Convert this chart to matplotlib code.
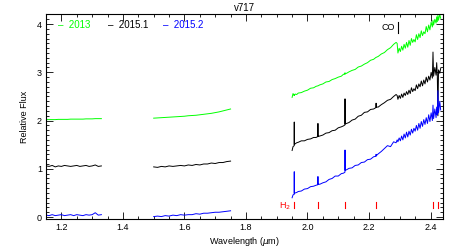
"""
v717 near-IR spectra (J, H, K) for three epochs
"""

import matplotlib
matplotlib.use("Agg")
import matplotlib.pyplot as plt
from matplotlib.ticker import MultipleLocator

plt.rcParams["font.family"] = ["Liberation Sans", "DejaVu Sans"]

# ---------------------------------------------------------------------------
# Data
# ---------------------------------------------------------------------------

EPOCHS = ["2013", "2015.1", "2015.2"]
COLORS = ["#00ff00", "black", "#0000ff"]

wl_j = [1.15, 1.16, 1.17, 1.18, 1.19, 1.20, 1.21, 1.22, 1.23, 1.24,
        1.25, 1.26, 1.27, 1.28, 1.29, 1.30, 1.31, 1.32, 1.33]
j_2013 = [2.02, 2.02, 2.02, 2.02, 2.025, 2.025, 2.025, 2.025, 2.03, 2.03,
          2.03, 2.03, 2.03, 2.035, 2.035, 2.035, 2.04, 2.04, 2.04]
j_2015_1 = [1.06, 1.05, 1.07, 1.04, 1.06, 1.05, 1.07, 1.06, 1.05, 1.06,
            1.07, 1.05, 1.06, 1.07, 1.05, 1.06, 1.08, 1.05, 1.06]
j_2015_2 = [0.04, 0.03, 0.05, 0.03, 0.04, 0.05, 0.03, 0.04, 0.05, 0.03,
            0.05, 0.04, 0.03, 0.05, 0.04, 0.05, 0.09, 0.04, 0.05]

wl_h = [1.5000, 1.5125, 1.5250, 1.5375, 1.5500, 1.5625, 1.5750, 1.5875,
        1.6000, 1.6125, 1.6250, 1.6375, 1.6500, 1.6625, 1.6750, 1.6875,
        1.7000, 1.7125, 1.7250, 1.7375, 1.7500]
h_2013 = [2.05, 2.055, 2.06, 2.065, 2.07, 2.075, 2.08, 2.085, 2.09, 2.10,
          2.105, 2.11, 2.12, 2.13, 2.14, 2.15, 2.165, 2.18, 2.20, 2.22, 2.24]
h_2015_1 = [1.04, 1.03, 1.05, 1.04, 1.06, 1.05, 1.06, 1.07, 1.06, 1.08,
            1.07, 1.09, 1.08, 1.10, 1.10, 1.12, 1.11, 1.13, 1.13, 1.15, 1.16]
h_2015_2 = [0.01, 0.02, 0.01, 0.03, 0.02, 0.04, 0.03, 0.05, 0.04, 0.05,
            0.05, 0.07, 0.06, 0.08, 0.08, 0.09, 0.10, 0.10, 0.11, 0.12, 0.13]

# K band: smooth part up to the CO bandhead, then the noisy red end
wl_k = [1.950, 1.953, 1.9568, 1.957, 1.9572, 1.960, 1.965, 1.970, 1.980, 1.990,
        2.000, 2.010, 2.020, 2.028, 2.0338, 2.034, 2.0342, 2.040, 2.050, 2.060,
        2.070, 2.080, 2.090, 2.100, 2.110, 2.117, 2.1218, 2.122, 2.1222, 2.127,
        2.135, 2.145, 2.155, 2.165, 2.175, 2.185, 2.195, 2.205, 2.215, 2.2228,
        2.223, 2.2232, 2.230, 2.240, 2.250, 2.260, 2.270, 2.280, 2.288, 2.2915,
        2.294, 2.298, 2.302, 2.306, 2.310, 2.314, 2.318, 2.322, 2.326, 2.330,
        2.334, 2.338, 2.342, 2.346, 2.350, 2.354, 2.358, 2.362, 2.366, 2.370,
        2.374, 2.378, 2.382, 2.386, 2.390, 2.394, 2.398, 2.402, 2.406, 2.408,
        2.410, 2.414, 2.418, 2.420, 2.422, 2.424, 2.426, 2.430, 2.433]
k_2013 = [2.48, 2.56, 2.52, 2.53, 2.52, 2.55, 2.54, 2.57, 2.58, 2.61,
          2.63, 2.67, 2.68, 2.71, 2.72, 2.72, 2.72, 2.74, 2.76, 2.80,
          2.81, 2.85, 2.87, 2.90, 2.92, 2.96, 2.96, 2.99, 2.97, 2.98,
          3.01, 3.04, 3.06, 3.11, 3.13, 3.17, 3.20, 3.25, 3.27, 3.31,
          3.31, 3.31, 3.33, 3.38, 3.41, 3.47, 3.51, 3.58, 3.62, 3.60,
          3.40, 3.50, 3.43, 3.54, 3.46, 3.58, 3.50, 3.62, 3.52, 3.66,
          3.56, 3.70, 3.62, 3.68, 3.63, 3.78, 3.68, 3.80, 3.72, 3.86,
          3.76, 3.84, 3.80, 3.95, 3.84, 3.98, 3.88, 4.04, 3.94, 4.08,
          3.98, 4.10, 4.02, 4.15, 4.05, 4.18, 4.08, 4.20, 4.12]
k_2015_1 = [1.38, 1.46, 1.48, 1.97, 1.50, 1.52, 1.54, 1.55, 1.58, 1.58,
            1.61, 1.62, 1.65, 1.65, 1.67, 1.94, 1.67, 1.68, 1.70, 1.74,
            1.75, 1.79, 1.80, 1.85, 1.87, 1.89, 1.91, 2.45, 1.93, 1.94,
            1.96, 2.01, 2.03, 2.09, 2.11, 2.17, 2.18, 2.23, 2.24, 2.27,
            2.36, 2.28, 2.28, 2.33, 2.37, 2.42, 2.44, 2.50, 2.54, 2.52,
            2.44, 2.52, 2.46, 2.55, 2.48, 2.57, 2.52, 2.60, 2.54, 2.63,
            2.56, 2.68, 2.60, 2.66, 2.62, 2.74, 2.66, 2.76, 2.70, 2.82,
            2.72, 2.84, 2.76, 2.90, 2.80, 2.92, 2.84, 3.00, 2.88, 3.42,
            2.92, 3.10, 2.94, 3.20, 2.96, 2.10, 3.05, 2.98, 3.08]
k_2015_2 = [0.40, 0.46, 0.47, 0.94, 0.49, 0.50, 0.51, 0.53, 0.54, 0.58,
            0.59, 0.63, 0.64, 0.66, 0.67, 0.84, 0.68, 0.68, 0.71, 0.73,
            0.78, 0.80, 0.85, 0.85, 0.90, 0.91, 0.93, 1.39, 0.97, 0.98,
            1.01, 1.02, 1.07, 1.08, 1.13, 1.14, 1.19, 1.20, 1.25, 1.26,
            1.30, 1.27, 1.31, 1.36, 1.42, 1.48, 1.46, 1.56, 1.54, 1.60,
            1.56, 1.64, 1.58, 1.68, 1.60, 1.72, 1.64, 1.76, 1.66, 1.78,
            1.70, 1.82, 1.74, 1.84, 1.78, 1.90, 1.80, 1.94, 1.84, 1.98,
            1.88, 2.02, 1.92, 2.06, 1.94, 2.12, 1.98, 2.16, 2.00, 2.32,
            2.04, 2.24, 2.06, 2.28, 2.12, 2.62, 2.16, 2.40, 2.22]

# H2 line positions (micron) and CO bandhead
H2_LINES = [1.9576, 2.0338, 2.1218, 2.2235, 2.4066, 2.4237]
CO_LINE = 2.2935

# ---------------------------------------------------------------------------
# Plot
# ---------------------------------------------------------------------------

fig = plt.figure(figsize=(4.57, 2.49), dpi=100)
ax = fig.add_axes([0.1007, 0.1205, 0.8683, 0.8235])

bands = [
    (wl_j, [j_2013, j_2015_1, j_2015_2]),
    (wl_h, [h_2013, h_2015_1, h_2015_2]),
    (wl_k, [k_2013, k_2015_1, k_2015_2]),
]
for wl, series in bands:
    for flux, col in zip(series, COLORS):
        ax.plot(wl, flux, color=col, linewidth=0.7)

# H2 markers
for lam in H2_LINES:
    ax.plot([lam, lam], [0.19, 0.32], color="red", linewidth=0.8)
ax.text(1.945, 0.23, "H$_2$", color="red", fontsize=6.5, ha="right", va="center")

# CO marker
ax.plot([CO_LINE, CO_LINE], [3.82, 4.05], color="black", linewidth=0.8)
ax.text(2.285, 3.93, "CO", color="black", fontsize=6.5, ha="right", va="center")

# legend as plain text
for x0, name, col in zip([0.03, 0.155, 0.295], EPOCHS, COLORS):
    ax.text(x0, 0.945, "\u2013  " + name, color=col, fontsize=7,
            transform=ax.transAxes, ha="left", va="center")

ax.set_xlim(1.15, 2.44)
ax.set_ylim(-0.04, 4.21)
ax.xaxis.set_major_locator(MultipleLocator(0.2))
ax.xaxis.set_minor_locator(MultipleLocator(0.05))
ax.yaxis.set_major_locator(MultipleLocator(1))
ax.yaxis.set_minor_locator(MultipleLocator(0.1))
ax.tick_params(which="both", direction="in", top=True, right=True,
               labelsize=6.5, width=0.6, pad=3)
ax.tick_params(which="major", length=5)
ax.tick_params(which="minor", length=2.5)
for sp in ax.spines.values():
    sp.set_linewidth(0.8)

ax.set_xlabel("Wavelength ($\\mu$m)", fontsize=6.5, labelpad=2)
ax.set_ylabel("Relative Flux", fontsize=6.5, labelpad=6)
ax.set_title("v717", fontsize=7, pad=2)

fig.savefig("out.png", dpi=100)
